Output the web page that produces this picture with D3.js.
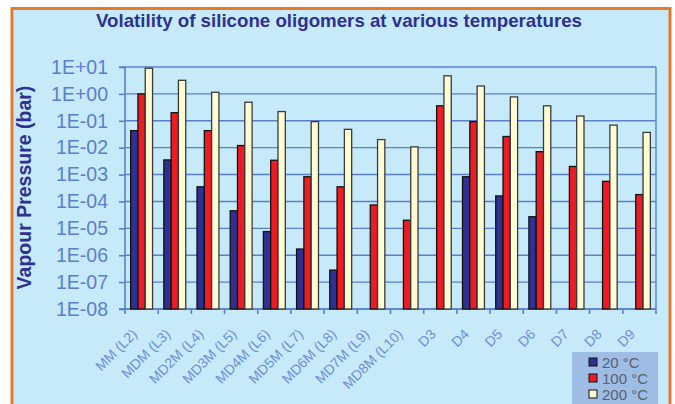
<!DOCTYPE html>
<html>
<head>
<meta charset="utf-8">
<script src="https://cdn.jsdelivr.net/npm/d3@7"></script>
<style>
html,body{margin:0;padding:0;background:#fff;}
svg{display:block;}
text{font-family:"Liberation Sans",Arial,sans-serif;}
</style>
</head>
<body>
<svg id="chart" width="675" height="404"></svg>
<script>
const categories = ["MM (L2)","MDM (L3)","MD2M (L4)","MD3M (L5)","MD4M (L6)","MD5M (L7)","MD6M (L8)","MD7M (L9)","MD8M (L10)","D3","D4","D5","D6","D7","D8","D9"];
const seriesNames = ["20 °C","100 °C","200 °C"];
const t20  = [0.043, 0.0035, 3.5e-4, 4.5e-5, 7.6e-6, 1.7e-6, 2.8e-7, null, null, null, 8.3e-4, 1.6e-4, 2.7e-5, null, null, null];
const t100 = [1.0, 0.2, 0.043, 0.012, 0.0034, 8.3e-4, 3.5e-4, 7.4e-5, 2.0e-5, 0.36, 0.093, 0.026, 0.0071, 0.0020, 5.6e-4, 1.8e-4];
const t200 = [9, 3.2, 1.15, 0.49, 0.22, 0.093, 0.048, 0.02, 0.0107, 4.7, 1.96, 0.77, 0.36, 0.15, 0.069, 0.037];
const yTicks = [1e1,1e0,1e-1,1e-2,1e-3,1e-4,1e-5,1e-6,1e-7,1e-8];
const colors = ["#2e3192","#ed1c24","#fffbd3"];
const title = "Volatility of silicone oligomers at various temperatures";
const yTitle = "Vapour Pressure (bar)";

(function(){
const svg = d3.select("#chart");
const W = 675, H = 404;
const pL = 125, pR = 656, pT = 67, pB = 309;

// frame
svg.append("rect").attr("x",12).attr("y",8.5).attr("width",658).attr("height",H)
  .attr("fill","#c7eafa").attr("stroke","#e8782a").attr("stroke-width",3);

// title
svg.append("text").attr("x",339).attr("y",27).attr("text-anchor","middle")
  .attr("font-size",18.5).attr("font-weight","bold").attr("fill","#2e3192")
  .attr("textLength",486).attr("lengthAdjust","spacingAndGlyphs")
  .text(title);

const x0 = d3.scaleBand().domain(categories).range([pL,pR]).padding(0);
const x1 = d3.scaleBand().domain(seriesNames).range([x0.bandwidth()*0.17, x0.bandwidth()*0.83]);
const y = d3.scaleLog().domain([1e-8,10]).range([pB,pT]);

const fmt = v => { const e = Math.round(Math.log10(v)); return "1E" + (e>=0?"+":"-") + String(Math.abs(e)).padStart(2,"0"); };

// gridlines
svg.append("g").selectAll("line").data(yTicks).join("line")
  .attr("x1",pL).attr("x2",pR).attr("y1",d=>y(d)).attr("y2",d=>y(d))
  .attr("stroke","#5a80cc").attr("stroke-width",1.4);
// right border
svg.append("line").attr("x1",pR).attr("x2",pR).attr("y1",pT).attr("y2",pB)
  .attr("stroke","#5a80cc").attr("stroke-width",1.4);

// y axis
const yAxis = svg.append("g").attr("transform",`translate(${pL},0)`)
  .call(d3.axisLeft(y).tickValues(yTicks).tickFormat(fmt).tickSize(6).tickPadding(11));
yAxis.selectAll("path,line").attr("stroke","#5a80cc").attr("stroke-width",1.6);
yAxis.select(".domain").attr("d",`M-6,${pT}H0V${pB}H-6`);
yAxis.selectAll("text").attr("font-size",19.5).attr("fill","#5b7fcc")
  .attr("font-family","'Liberation Sans',Arial,sans-serif");

// x axis
const xAxis = svg.append("g").attr("transform",`translate(0,${pB})`)
  .call(d3.axisBottom(x0).tickSize(0).tickFormat(""));
xAxis.select(".domain").attr("stroke","#5a80cc").attr("stroke-width",1.6).attr("d",`M${pL-6},0H${pR}`);
const bounds = categories.map(c=>x0(c)).concat([pR]);
xAxis.selectAll(".tb").data(bounds).join("line").attr("class","tb")
  .attr("x1",d=>d).attr("x2",d=>d).attr("y1",0).attr("y2",5)
  .attr("stroke","#5a80cc").attr("stroke-width",1.6);
svg.append("g").selectAll("text").data(categories).join("text")
  .attr("transform",d=>`translate(${x0(d)+x0.bandwidth()/2-3.5},${pB+26}) rotate(-45)`)
  .attr("text-anchor","end").attr("font-size",14).attr("fill","#6f8fd8")
  .text(d=>d);

// bars
const seriesData = [t20,t100,t200];
const groups = svg.append("g").selectAll("g").data(categories).join("g")
  .attr("transform",d=>`translate(${x0(d)},0)`);
groups.selectAll("rect").data((c,i)=>seriesNames.map((s,k)=>({s,k,v:seriesData[k][i]})).filter(d=>d.v!=null))
  .join("rect")
  .attr("x",d=>x1(d.s)).attr("width",x1.bandwidth())
  .attr("y",d=>y(d.v)).attr("height",d=>y(1e-8)-y(d.v))
  .attr("fill",d=>colors[d.k]).attr("stroke",d=>d.k===2?"#3a3a3a":"#111").attr("stroke-width",1.3);

// y title
svg.append("text").attr("transform","translate(31,187.5) rotate(-90)")
  .attr("text-anchor","middle").attr("font-size",19.5).attr("font-weight","bold")
  .attr("fill","#2e3192").text(yTitle);

// legend
const lg = svg.append("g");
lg.append("rect").attr("x",572).attr("y",352).attr("width",86).attr("height",60).attr("fill","#9fbde4");
const li = lg.selectAll("g").data(seriesNames).join("g")
  .attr("transform",(d,i)=>`translate(589,${358+i*16})`);
li.append("rect").attr("width",8).attr("height",8).attr("fill",(d,i)=>colors[i]).attr("stroke","#111").attr("stroke-width",1);
li.append("text").attr("x",13).attr("y",9.5).attr("font-size",15).attr("fill","#5a6070").text(d=>d);
})();
</script>
</body>
</html>
